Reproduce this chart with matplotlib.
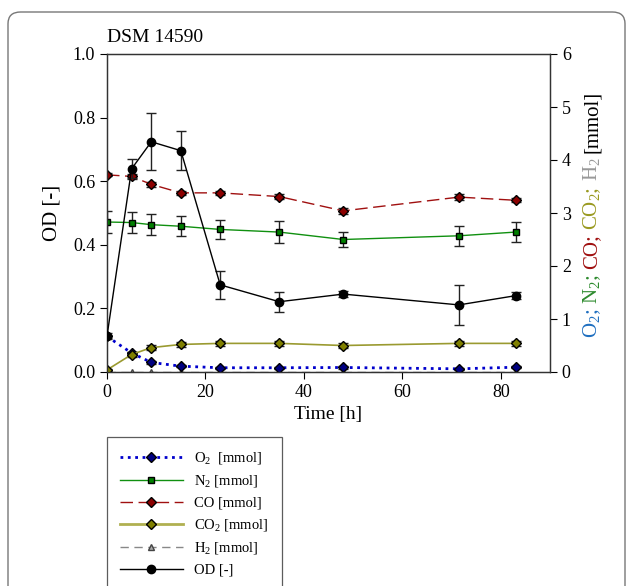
import matplotlib
matplotlib.use("Agg")
import matplotlib.pyplot as plt
from matplotlib.patches import FancyBboxPatch
from matplotlib.lines import Line2D

plt.rcParams["font.family"] = ["Liberation Serif", "DejaVu Serif"]
plt.rcParams["mathtext.fontset"] = "custom"
plt.rcParams["mathtext.rm"] = "Liberation Serif"
plt.rcParams["mathtext.it"] = "Liberation Serif:italic"

# Data
time_h = [0, 5, 9, 15, 23, 35, 48, 71.5, 83]
od = [0.113, 0.639, 0.724, 0.696, 0.274, 0.221, 0.245, 0.211, 0.240]
od_err = [0.01, 0.03, 0.09, 0.062, 0.045, 0.031, 0.01, 0.063, 0.012]
o2 = [0.67, 0.36, 0.18, 0.11, 0.08, 0.08, 0.085, 0.06, 0.09]
o2_err = [0.03, 0.02, 0.03, 0.02, 0.02, 0.02, 0.02, 0.02, 0.02]
n2 = [2.83, 2.82, 2.78, 2.75, 2.69, 2.64, 2.50, 2.57, 2.64]
n2_err = [0.21, 0.19, 0.20, 0.19, 0.18, 0.21, 0.15, 0.19, 0.19]
co = [3.72, 3.69, 3.54, 3.38, 3.38, 3.31, 3.04, 3.30, 3.24]
co_err = [0.03, 0.05, 0.04, 0.04, 0.04, 0.04, 0.05, 0.05, 0.04]
co2 = [0.04, 0.33, 0.46, 0.52, 0.54, 0.54, 0.50, 0.54, 0.54]
co2_err = [0.02, 0.04, 0.05, 0.04, 0.04, 0.04, 0.04, 0.04, 0.04]
h2 = [0, 0, 0, 0, 0, 0, 0, 0, 0]

label_parts = [("O$_2$;", "#1f6fc0"), ("N$_2$;", "#2e8b2e"), ("CO;", "#a01010"),
               ("CO$_2$;", "#9a9a20"), ("H$_2$", "#999999"), ("[mmol]", "black")]

W, H = 630, 586
fig = plt.figure(figsize=(W / 100, H / 100), dpi=100)

# outer rounded frame
frame = FancyBboxPatch((8 / W, -0.05), 617 / W, 1 - 12 / H + 0.05,
                       boxstyle="round,pad=0,rounding_size=0.02",
                       transform=fig.transFigure, fc="none", ec="#777777", lw=1)
fig.patches.append(frame)

ax = fig.add_axes([107 / W, 1 - 372 / H, 443 / W, 318 / H])
ax2 = ax.twinx()
ax.set_zorder(ax2.get_zorder() + 1)
ax.patch.set_visible(False)

eb = dict(ecolor="#222222", elinewidth=1, capsize=3.5, capthick=1)

ax2.errorbar(time_h, h2, color="#888888", ls=(0, (6, 4)), lw=1, marker="^", ms=5,
             mfc="#aaaaaa", mec="#444444", zorder=2)
ax2.errorbar(time_h, o2, yerr=o2_err, color="#0000cc", ls=":", lw=2, marker="D", ms=5,
             mfc="#000080", mec="black", zorder=3, **eb)
ax2.errorbar(time_h, co2, yerr=co2_err, color="#9a9a30", ls="-", lw=1.2, marker="D", ms=5.5,
             mfc="#808000", mec="black", zorder=3, **eb)
ax2.errorbar(time_h, n2, yerr=n2_err, color="#109010", ls="-", lw=1, marker="s", ms=5,
             mfc="#008000", mec="black", zorder=3, **eb)
ax2.errorbar(time_h, co, yerr=co_err, color="#a01010", ls=(0, (9, 4)), lw=1, marker="D", ms=5,
             mfc="#8b0000", mec="black", zorder=3, **eb)

ax.errorbar(time_h, od, yerr=od_err, color="black", ls="-", lw=1, marker="o", ms=6,
            mfc="black", mec="black", zorder=4, **eb)

ax.set_xlim(0, 90)
ax.set_ylim(0, 1.0)
ax2.set_ylim(0, 6)
ax.set_xticks([0, 20, 40, 60, 80])
ax.set_yticks([0.0, 0.2, 0.4, 0.6, 0.8, 1.0])
ax.set_yticklabels(["0.0", "0.2", "0.4", "0.6", "0.8", "1.0"])
ax2.set_yticks([0, 1, 2, 3, 4, 5, 6])
for a in (ax, ax2):
    a.tick_params(direction="out", length=5, width=0.8, labelsize=13, colors="black")
    for s in a.spines.values():
        s.set_linewidth(0.9)
        s.set_color("#333333")

ax.set_xlabel("Time [h]", fontsize=14, labelpad=4)
ax.set_ylabel("OD [-]", fontsize=15, labelpad=8)
ax.text(0, 1.025, "DSM 14590", transform=ax.transAxes, fontsize=14, ha="left", va="bottom")

# multicolour right label, stacked bottom to top
fig.canvas.draw()
r = fig.canvas.get_renderer()
y = 1 - 338 / H
for txt, col in label_parts:
    t = fig.text(592 / W, y, txt, color=col, rotation=90, ha="center", va="bottom", fontsize=15)
    bb = t.get_window_extent(r)
    y += (bb.height + 5) / fig.bbox.height

handles = [
    Line2D([], [], color="#0000cc", ls=":", lw=2, marker="D", ms=5, mfc="#000080", mec="black"),
    Line2D([], [], color="#109010", ls="-", lw=1, marker="s", ms=5, mfc="#008000", mec="black"),
    Line2D([], [], color="#a01010", ls=(0, (9, 4)), lw=1, marker="D", ms=5, mfc="#8b0000", mec="black"),
    Line2D([], [], color="#b0b050", ls="-", lw=2, marker="D", ms=5.5, mfc="#808000", mec="black"),
    Line2D([], [], color="#888888", ls=(0, (6, 4)), lw=1, marker="^", ms=5, mfc="#aaaaaa", mec="#444444"),
    Line2D([], [], color="black", ls="-", lw=1, marker="o", ms=6, mfc="black", mec="black"),
]
labels = ["O$_2$  [mmol]", "N$_2$ [mmol]", "CO [mmol]", "CO$_2$ [mmol]", "H$_2$ [mmol]", "OD [-]"]
leg = fig.legend(handles, labels, loc="upper left", bbox_to_anchor=(107 / W, 1 - 437 / H),
                 fontsize=10.5, frameon=True, fancybox=False, edgecolor="#333333",
                 numpoints=1, handlelength=4.3, handletextpad=0.8, borderpad=0.9,
                 labelspacing=0.5, borderaxespad=0)
leg.get_frame().set_linewidth(0.9)

fig.savefig("out.png", dpi=100)
